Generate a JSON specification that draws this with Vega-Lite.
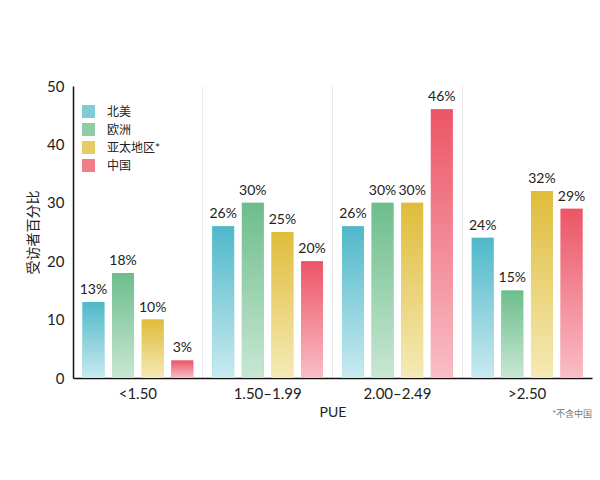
{
  "$schema": "https://vega.github.io/schema/vega-lite/v6.json",
  "width": 519,
  "height": 292,
  "autosize": {"type": "none"},
  "padding": {"left": 73, "top": 86, "right": 8, "bottom": 102},
  "background": "white",
  "config": {
    "font": "Lato, Noto Sans CJK SC",
    "view": {"stroke": null},
    "axis": {"labelColor": "#222", "titleColor": "#222", "labelFont": "Lato, Noto Sans CJK SC", "titleFont": "Lato, Noto Sans CJK SC"}
  },
  "title": {
    "text": "*不含中国",
    "orient": "bottom",
    "anchor": "end",
    "fontSize": 9,
    "fontWeight": "normal",
    "color": "#777",
    "offset": -9
  },
  "data": {
    "values": [
      {"pue": "<1.50", "region": "北美", "pct": 13, "label": "13%"},
      {"pue": "<1.50", "region": "欧洲", "pct": 18, "label": "18%"},
      {"pue": "<1.50", "region": "亚太地区*", "pct": 10, "label": "10%"},
      {"pue": "<1.50", "region": "中国", "pct": 3, "label": "3%"},
      {"pue": "1.50–1.99", "region": "北美", "pct": 26, "label": "26%"},
      {"pue": "1.50–1.99", "region": "欧洲", "pct": 30, "label": "30%"},
      {"pue": "1.50–1.99", "region": "亚太地区*", "pct": 25, "label": "25%"},
      {"pue": "1.50–1.99", "region": "中国", "pct": 20, "label": "20%"},
      {"pue": "2.00–2.49", "region": "北美", "pct": 26, "label": "26%"},
      {"pue": "2.00–2.49", "region": "欧洲", "pct": 30, "label": "30%"},
      {"pue": "2.00–2.49", "region": "亚太地区*", "pct": 30, "label": "30%"},
      {"pue": "2.00–2.49", "region": "中国", "pct": 46, "label": "46%"},
      {"pue": ">2.50", "region": "北美", "pct": 24, "label": "24%"},
      {"pue": ">2.50", "region": "欧洲", "pct": 15, "label": "15%"},
      {"pue": ">2.50", "region": "亚太地区*", "pct": 32, "label": "32%"},
      {"pue": ">2.50", "region": "中国", "pct": 29, "label": "29%"}
    ]
  },
  "encoding": {
    "x": {
      "field": "pue",
      "type": "nominal",
      "sort": null,
      "scale": {"paddingInner": 0, "paddingOuter": 0},
      "axis": {
        "title": "PUE",
        "labelAngle": 0,
        "labelFontSize": 15,
        "labelPadding": 8,
        "titleFontSize": 14,
        "titleFontWeight": "normal",
        "titlePadding": 4,
        "ticks": false,
        "domainColor": "#111",
        "domainWidth": 1.5,
        "grid": true,
        "bandPosition": 0,
        "gridColor": "#e8e8e8",
        "gridWidth": 1
      }
    },
    "xOffset": {
      "field": "region",
      "type": "nominal",
      "sort": ["北美", "欧洲", "亚太地区*", "中国"],
      "scale": {"paddingInner": 0.26, "paddingOuter": 0.32}
    },
    "y": {
      "field": "pct",
      "type": "quantitative",
      "scale": {"domain": [0, 50]},
      "axis": {
        "title": "受访者百分比",
        "values": [0, 10, 20, 30, 40, 50],
        "labelFontSize": 15,
        "labelPadding": 9,
        "titleFontSize": 14,
        "titleFontWeight": "normal",
        "titlePadding": 6,
        "ticks": false,
        "grid": false,
        "domainColor": "#111",
        "domainWidth": 1.5
      }
    }
  },
  "layer": [
    {
      "mark": {"type": "bar"},
      "encoding": {
        "color": {
          "field": "region",
          "type": "nominal",
          "sort": ["北美", "欧洲", "亚太地区*", "中国"],
          "scale": {
            "domain": ["北美", "欧洲", "亚太地区*", "中国"],
            "range": ["#7fcbd8", "#8fcba6", "#e6cc66", "#f07d8a"]
          },
          "legend": {
            "title": null,
            "orient": "none",
            "legendX": 9,
            "legendY": 19,
            "symbolType": "square",
            "symbolSize": 169,
            "symbolStrokeWidth": 0,
            "labelFontSize": 12,
            "labelColor": "#222",
            "labelOffset": 12,
            "rowPadding": 5
          }
        }
      }
    },
    {
      "mark": {"type": "bar"},
      "encoding": {
        "color": {
          "condition": [
            {
              "test": "datum.region === '北美'",
              "value": {"gradient": "linear", "x1": 0, "y1": 0, "x2": 0, "y2": 1, "stops": [{"offset": 0, "color": "#4fb8c9"}, {"offset": 1, "color": "#c9eaf0"}]}
            },
            {
              "test": "datum.region === '欧洲'",
              "value": {"gradient": "linear", "x1": 0, "y1": 0, "x2": 0, "y2": 1, "stops": [{"offset": 0, "color": "#6dbd8c"}, {"offset": 1, "color": "#c8e7d3"}]}
            },
            {
              "test": "datum.region === '亚太地区*'",
              "value": {"gradient": "linear", "x1": 0, "y1": 0, "x2": 0, "y2": 1, "stops": [{"offset": 0, "color": "#dfbc3a"}, {"offset": 1, "color": "#f5eab7"}]}
            }
          ],
          "value": {"gradient": "linear", "x1": 0, "y1": 0, "x2": 0, "y2": 1, "stops": [{"offset": 0, "color": "#ec5566"}, {"offset": 1, "color": "#f9bec6"}]}
        }
      }
    },
    {
      "mark": {"type": "text", "baseline": "bottom", "dy": -5, "fontSize": 14, "color": "#222"},
      "encoding": {"text": {"field": "label"}}
    }
  ]
}
